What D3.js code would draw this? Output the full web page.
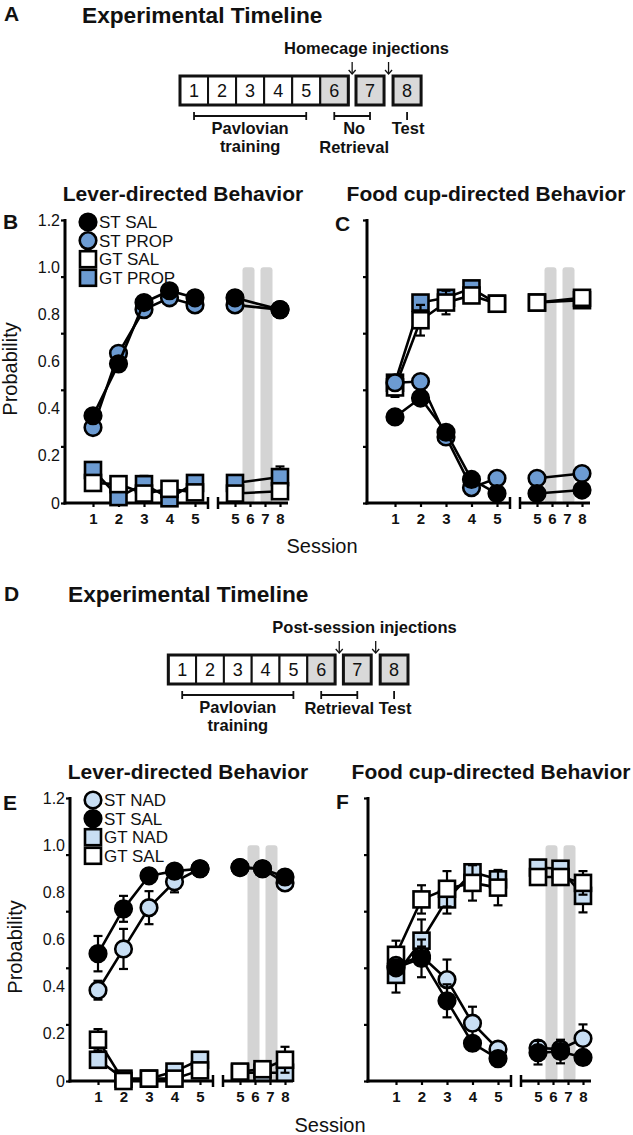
<!DOCTYPE html>
<html><head><meta charset="utf-8">
<script src="https://cdn.jsdelivr.net/npm/d3@7"></script>
<style>
body{margin:0;background:#fff}
svg{display:block}
text{font-family:"Liberation Sans",Arial,Helvetica,sans-serif;fill:#111}
</style>
</head><body>
<svg id="c" width="633" height="1135"></svg>
<script>
// ---------------- DATA ----------------
const sessionsTrain = [1, 2, 3, 4, 5];
const sessionsTestBC = [5, 8];
const sessionsTestEF = [5, 6.5, 8];
const trainTickLabels = [1, 2, 3, 4, 5];
const testTickLabels = [5, 6, 7, 8];
const graySessions = [6, 7];
const yTickLabels = [0, 0.2, 0.4, 0.6, 0.8, 1.0, 1.2];
const yTickMarks = [0, 0.24, 0.48, 0.72, 0.96, 1.2];
const timelineSessions = ["1", "2", "3", "4", "5", "6", "7", "8"];
const timelineGray = ["6", "7", "8"];

// Panel B (lever, propranolol)
const B_stSal = [0.37, 0.59, 0.85, 0.90, 0.87],  B_stSal2 = [0.87, 0.82];
const B_stProp = [0.32, 0.635, 0.82, 0.87, 0.84], B_stProp2 = [0.84, 0.82];
const B_gtSal = [0.085, 0.08, 0.04, 0.06, 0.045], B_gtSal2 = [0.04, 0.05];
const B_gtProp = [0.14, 0.025, 0.08, 0.02, 0.085], B_gtProp2 = [0.085, 0.11];
const B_stSalErr = [0.02, 0.02, 0.02, 0.02, 0.02], B_stSalErr2 = [0.02, 0.02];
const B_stPropErr = [0.02, 0.02, 0.02, 0.02, 0.02], B_stPropErr2 = [0.02, 0.02];
const B_gtSalErr = [0.02, 0.03, 0.02, 0.02, 0.02], B_gtSalErr2 = [0.02, 0.02];
const B_gtPropErr = [0.025, 0.02, 0.035, 0.01, 0.03], B_gtPropErr2 = [0.03, 0.045];

// Panel C (food cup, propranolol)
const C_stSal = [0.365, 0.445, 0.30, 0.10, 0.04], C_stSal2 = [0.04, 0.055];
const C_stProp = [0.51, 0.515, 0.28, 0.065, 0.105], C_stProp2 = [0.105, 0.125];
const C_gtSal = [0.49, 0.775, 0.85, 0.88, 0.845], C_gtSal2 = [0.85, 0.87];
const C_gtProp = [0.51, 0.85, 0.87, 0.91, 0.845], C_gtProp2 = [0.85, 0.86];
const C_stSalErr = [0.02, 0.02, 0.02, 0.02, 0.02], C_stSalErr2 = [0.02, 0.02];
const C_stPropErr = [0.02, 0.02, 0.02, 0.02, 0.02], C_stPropErr2 = [0.02, 0.02];
const C_gtSalErr = [0.04, 0.065, 0.05, 0.02, 0.02], C_gtSalErr2 = [0.02, 0.02];
const C_gtPropErr = [0.02, 0.03, 0.03, 0.02, 0.02], C_gtPropErr2 = [0.02, 0.03];

// Panel E (lever, nadolol)
const E_stNad = [0.385, 0.56, 0.735, 0.845, 0.90], E_stNad2 = [0.905, 0.90, 0.84];
const E_stSal = [0.54, 0.73, 0.87, 0.89, 0.90],    E_stSal2 = [0.905, 0.90, 0.865];
const E_gtNad = [0.09, 0.01, 0.01, 0.04, 0.09],    E_gtNad2 = [0.035, 0.035, 0.035];
const E_gtSal = [0.175, 0.0, 0.01, 0.01, 0.045],   E_gtSal2 = [0.04, 0.05, 0.09];
const E_stNadErr = [0.04, 0.085, 0.07, 0.045, 0.02], E_stNadErr2 = [0.02, 0.02, 0.03];
const E_stSalErr = [0.075, 0.055, 0.02, 0.02, 0.02], E_stSalErr2 = [0.02, 0.02, 0.03];
const E_gtNadErr = [0.03, 0.01, 0.01, 0.02, 0.02],   E_gtNadErr2 = [0.01, 0.01, 0.02];
const E_gtSalErr = [0.045, 0.01, 0.01, 0.01, 0.02],  E_gtSalErr2 = [0.01, 0.01, 0.055];

// Panel F (food cup, nadolol)
const F_stNad = [0.49, 0.53, 0.43, 0.245, 0.135], F_stNad2 = [0.14, 0.135, 0.18];
const F_stSal = [0.48, 0.52, 0.34, 0.16, 0.095],  F_stSal2 = [0.12, 0.125, 0.10];
const F_gtNad = [0.45, 0.595, 0.77, 0.885, 0.855], F_gtNad2 = [0.905, 0.90, 0.785];
const F_gtSal = [0.535, 0.77, 0.815, 0.84, 0.82],  F_gtSal2 = [0.865, 0.865, 0.84];
const F_stNadErr = [0.03, 0.04, 0.085, 0.07, 0.02], F_stNadErr2 = [0.02, 0.02, 0.06];
const F_stSalErr = [0.03, 0.08, 0.07, 0.03, 0.02],  F_stSalErr2 = [0.05, 0.05, 0.03];
const F_gtNadErr = [0.075, 0.09, 0.06, 0.02, 0.03], F_gtNadErr2 = [0.02, 0.03, 0.07];
const F_gtSalErr = [0.06, 0.06, 0.075, 0.075, 0.075], F_gtSalErr2 = [0.02, 0.02, 0.05];

const legendBC = ["ST SAL", "ST PROP", "GT SAL", "GT PROP"];
const legendEF = ["ST NAD", "ST SAL", "GT NAD", "GT SAL"];

// ---------------- STYLE ----------------
const BLUE = "#6c9bd2", LIGHT = "#c8def3", GRAY = "#d4d4d4";
const FONT = '"Liberation Sans",Arial,Helvetica,sans-serif';
const svg = d3.select("#c");

function series(name, shape, fill, v1, v2, e1, e2) {
  return {name, shape, fill, v1, v2, e1, e2};
}

const panelB = [ // drawn back to front
  series("GT PROP", "square", BLUE, B_gtProp, B_gtProp2, B_gtPropErr, B_gtPropErr2),
  series("GT SAL", "square", "#fff", B_gtSal, B_gtSal2, B_gtSalErr, B_gtSalErr2),
  series("ST PROP", "circle", BLUE, B_stProp, B_stProp2, B_stPropErr, B_stPropErr2),
  series("ST SAL", "circle", "#000", B_stSal, B_stSal2, B_stSalErr, B_stSalErr2)
];
const panelC = [
  series("GT PROP", "square", BLUE, C_gtProp, C_gtProp2, C_gtPropErr, C_gtPropErr2),
  series("GT SAL", "square", "#fff", C_gtSal, C_gtSal2, C_gtSalErr, C_gtSalErr2),
  series("ST PROP", "circle", BLUE, C_stProp, C_stProp2, C_stPropErr, C_stPropErr2),
  series("ST SAL", "circle", "#000", C_stSal, C_stSal2, C_stSalErr, C_stSalErr2)
];
const panelE = [
  series("GT NAD", "square", LIGHT, E_gtNad, E_gtNad2, E_gtNadErr, E_gtNadErr2),
  series("GT SAL", "square", "#fff", E_gtSal, E_gtSal2, E_gtSalErr, E_gtSalErr2),
  series("ST NAD", "circle", LIGHT, E_stNad, E_stNad2, E_stNadErr, E_stNadErr2),
  series("ST SAL", "circle", "#000", E_stSal, E_stSal2, E_stSalErr, E_stSalErr2)
];
const panelF = [
  series("GT NAD", "square", LIGHT, F_gtNad, F_gtNad2, F_gtNadErr, F_gtNadErr2),
  series("GT SAL", "square", "#fff", F_gtSal, F_gtSal2, F_gtSalErr, F_gtSalErr2),
  series("ST NAD", "circle", LIGHT, F_stNad, F_stNad2, F_stNadErr, F_stNadErr2),
  series("ST SAL", "circle", "#000", F_stSal, F_stSal2, F_stSalErr, F_stSalErr2)
];

function txt(g, x, y, s, size, weight, anchor) {
  return g.append("text").attr("x", x).attr("y", y).text(s)
    .attr("font-size", size).attr("font-weight", weight || "normal")
    .attr("text-anchor", anchor || "start");
}

function marker(g, shape, fill, x, y) {
  if (shape === "circle") {
    g.append("circle").attr("cx", x).attr("cy", y).attr("r", 8.3)
      .attr("fill", fill).attr("stroke", "#000").attr("stroke-width", 2.6);
  } else {
    g.append("rect").attr("x", x - 8).attr("y", y - 8).attr("width", 16).attr("height", 16)
      .attr("fill", fill).attr("stroke", "#000").attr("stroke-width", 2.6);
  }
}

// ---------------- PANEL ----------------
function drawPanel(cfg) {
  const {ax, y0, data, testX, showYLabels, legend} = cfg;
  const g = svg.append("g");
  const y = d3.scaleLinear().domain([0, 1.2]).range([y0, y0 - 283]);
  const x1 = d3.scaleLinear().domain([1, 5]).range([ax + 28, ax + 130]);
  const x2 = d3.scaleLinear().domain([5, 8]).range([ax + 170, ax + 215]);

  // gray bars for sessions 6 and 7
  g.selectAll(".gb").data(graySessions).join("rect")
    .attr("x", (d, i) => x2(d) - 6 + (i === 0 ? -1.5 : 1.5)).attr("width", 12)
    .attr("y", y(1.0)).attr("height", y(0) - y(1.0))
    .attr("rx", 3).attr("fill", GRAY);

  // y axis: tick marks
  const yAxisMarks = d3.axisLeft(y).tickValues(yTickMarks).tickSize(4).tickFormat("").tickSizeOuter(0);
  const ya = g.append("g").attr("transform", `translate(${ax},0)`).call(yAxisMarks);
  ya.select(".domain").attr("stroke", "#000").attr("stroke-width", 3)
    .attr("d", `M0,${y(1.2) - 1}V${y0 + 1.5}`);
  ya.selectAll(".tick line").attr("stroke", "#000").attr("stroke-width", 2.2);
  // y axis labels
  if (showYLabels) {
    const yAxisLab = d3.axisLeft(y).tickValues(yTickLabels).tickSize(0).tickPadding(5)
      .tickFormat(d => d === 0 ? "0" : d3.format(".1f")(d));
    const yl = g.append("g").attr("transform", `translate(${ax},0)`).call(yAxisLab);
    yl.select(".domain").remove();
    yl.selectAll("text").attr("font-size", 16).attr("font-family", FONT).attr("fill", "#111");
  }

  // x axis segment 1
  const fmt = d3.format("d");
  const xa1 = d3.axisBottom(x1).tickValues(trainTickLabels).tickFormat(fmt).tickSize(4).tickPadding(6).tickSizeOuter(0);
  const g1 = g.append("g").attr("transform", `translate(0,${y0})`).call(xa1);
  g1.select(".domain").attr("stroke", "#000").attr("stroke-width", 3)
    .attr("d", `M${ax - 1.5},0H${ax + 143}`);
  g1.append("line").attr("x1", ax + 143).attr("x2", ax + 143).attr("y1", -6).attr("y2", 6)
    .attr("stroke", "#000").attr("stroke-width", 2.5);
  // x axis segment 2
  const xa2 = d3.axisBottom(x2).tickValues(testTickLabels).tickFormat(fmt).tickSize(4).tickPadding(6).tickSizeOuter(0);
  const g2 = g.append("g").attr("transform", `translate(0,${y0})`).call(xa2);
  g2.select(".domain").attr("stroke", "#000").attr("stroke-width", 3)
    .attr("d", `M${ax + 153},0H${ax + 223}`);
  g2.append("line").attr("x1", ax + 153).attr("x2", ax + 153).attr("y1", -6).attr("y2", 6)
    .attr("stroke", "#000").attr("stroke-width", 2.5);
  [g1, g2].forEach(a => {
    a.selectAll(".tick line").attr("stroke", "#000").attr("stroke-width", 2.2);
    a.selectAll("text").attr("font-size", 15).attr("font-weight", "bold")
      .attr("font-family", FONT).attr("fill", "#111");
  });

  // series
  data.forEach(s => {
    const sg = g.append("g");
    const pts1 = sessionsTrain.map((d, i) => ({x: x1(d), v: s.v1[i], e: s.e1[i]}));
    const pts2 = testX.map((d, i) => ({x: x2(d), v: s.v2[i], e: s.e2[i]}));
    [pts1, pts2].forEach(pts => {
      pts.forEach(p => {
        sg.append("line").attr("x1", p.x).attr("x2", p.x)
          .attr("y1", y(p.v + p.e)).attr("y2", y(Math.max(0, p.v - p.e)))
          .attr("stroke", "#000").attr("stroke-width", 2.2);
        [p.v + p.e, Math.max(0, p.v - p.e)].forEach(c => {
          sg.append("line").attr("x1", p.x - 4.5).attr("x2", p.x + 4.5)
            .attr("y1", y(c)).attr("y2", y(c)).attr("stroke", "#000").attr("stroke-width", 2.2);
        });
      });
      sg.append("path").datum(pts)
        .attr("d", d3.line().x(p => p.x).y(p => y(p.v)))
        .attr("fill", "none").attr("stroke", "#000").attr("stroke-width", 2.6);
      pts.forEach(p => marker(sg, s.shape, s.fill, p.x, y(p.v)));
    });
  });

  // legend
  if (legend) {
    legend.forEach((name, i) => {
      const s = data.find(d => d.name === name);
      const ly = y0 - 281 + i * 18.6;
      marker(g, s.shape, s.fill, ax + 23, ly);
      txt(g, ax + 34, ly + 6, name, 17);
    });
  }
  return g;
}

// ---------------- TIMELINE ----------------
function drawTimeline(cfg) {
  const {x0, w, top, gap1, gap2, injLabel, injX, midLabel1, midLabel2} = cfg;
  const g = svg.append("g");
  const h = 29;
  const xs = timelineSessions.map((d, i) => i < 6 ? x0 + i * w : (i === 6 ? x0 + 6 * w + gap1 : x0 + 7 * w + gap1 + gap2));
  timelineSessions.forEach((d, i) => {
    g.append("rect").attr("x", xs[i]).attr("y", top).attr("width", w).attr("height", h)
      .attr("fill", timelineGray.includes(d) ? "#d9d9d9" : "#fff")
      .attr("stroke", "#111").attr("stroke-width", i < 6 ? 2 : 3);
    txt(g, xs[i] + w / 2, top + h / 2 + 6.5, d, 18, "normal", "middle");
  });
  g.append("rect").attr("x", x0).attr("y", top).attr("width", 6 * w).attr("height", h)
    .attr("fill", "none").attr("stroke", "#111").attr("stroke-width", 3);

  const cx = i => xs[i] + w / 2;
  const by = top + h + 11;
  function bracket(a, b) {
    g.append("line").attr("x1", a).attr("x2", b).attr("y1", by).attr("y2", by).attr("stroke", "#111").attr("stroke-width", 1.8);
    [a, b].forEach(xx => g.append("line").attr("x1", xx).attr("x2", xx).attr("y1", by - 4).attr("y2", by + 4).attr("stroke", "#111").attr("stroke-width", 1.8));
  }
  bracket(cx(0), cx(4));
  bracket(cx(5), cx(6));
  g.append("line").attr("x1", cx(7)).attr("x2", cx(7)).attr("y1", by - 4).attr("y2", by + 4).attr("stroke", "#111").attr("stroke-width", 1.8);

  txt(g, (cx(0) + cx(4)) / 2, top + h + 29, "Pavlovian", 16.5, "bold", "middle");
  txt(g, (cx(0) + cx(4)) / 2, top + h + 47, "training", 16.5, "bold", "middle");
  if (midLabel2) {
    txt(g, (cx(5) + cx(6)) / 2 + 2, top + h + 29, midLabel1, 16.5, "bold", "middle");
    txt(g, (cx(5) + cx(6)) / 2 + 2, top + h + 48, midLabel2, 16.5, "bold", "middle");
  } else {
    txt(g, (cx(5) + cx(6)) / 2, top + h + 30, midLabel1, 16.5, "bold", "middle");
  }
  txt(g, cx(7) + 1, top + h + (midLabel2 ? 29 : 30), "Test", 16.5, "bold", "middle");

  // injection label & arrows
  txt(g, injX, top - 22, injLabel, 16.5, "bold", "middle");
  const ax1 = x0 + 6 * w + gap1 / 2, ax2 = xs[6] + w + gap2 / 2;
  [ax1, ax2].forEach(xx => {
    g.append("line").attr("x1", xx).attr("x2", xx).attr("y1", top - 14).attr("y2", top - 2).attr("stroke", "#111").attr("stroke-width", 1.3);
    g.append("path").attr("d", `M${xx - 3.5},${top - 6}L${xx},${top - 2}L${xx + 3.5},${top - 6}`)
      .attr("fill", "none").attr("stroke", "#111").attr("stroke-width", 1.3);
  });
}

// ---------------- LAYOUT ----------------
// A
txt(svg, 4, 21, "A", 21, "bold");
txt(svg, 82, 23, "Experimental Timeline", 22.7, "bold");
drawTimeline({x0: 180, w: 28.05, top: 76, gap1: 7.7, gap2: 9, injLabel: "Homecage injections", injX: 366.5, midLabel1: "No", midLabel2: "Retrieval"});

// B / C
txt(svg, 183, 201, "Lever-directed Behavior", 21, "bold", "middle");
txt(svg, 486, 201, "Food cup-directed Behavior", 21, "bold", "middle");
txt(svg, 3, 229, "B", 21, "bold");
txt(svg, 335, 231, "C", 21, "bold");
drawPanel({ax: 65, y0: 503, data: panelB, testX: sessionsTestBC, showYLabels: true, legend: legendBC});
drawPanel({ax: 367, y0: 503, data: panelC, testX: sessionsTestBC, showYLabels: false});
svg.append("text").attr("transform", "translate(17,369) rotate(-90)").attr("text-anchor", "middle")
  .attr("font-size", 20).text("Probability");
txt(svg, 322, 553, "Session", 20, "normal", "middle");

// D
txt(svg, 4, 601, "D", 21, "bold");
txt(svg, 68, 602, "Experimental Timeline", 22.7, "bold");
drawTimeline({x0: 168.3, w: 27.8, top: 655, gap1: 8.3, gap2: 9, injLabel: "Post-session injections", injX: 364.5, midLabel1: "Retrieval"});

// E / F
txt(svg, 188, 779, "Lever-directed Behavior", 21, "bold", "middle");
txt(svg, 491, 779, "Food cup-directed Behavior", 21, "bold", "middle");
txt(svg, 3, 810, "E", 21, "bold");
txt(svg, 336, 809, "F", 21, "bold");
drawPanel({ax: 70, y0: 1081, data: panelE, testX: sessionsTestEF, showYLabels: true, legend: legendEF});
drawPanel({ax: 368, y0: 1081, data: panelF, testX: sessionsTestEF, showYLabels: false});
svg.append("text").attr("transform", "translate(22,947) rotate(-90)").attr("text-anchor", "middle")
  .attr("font-size", 20).text("Probability");
txt(svg, 330, 1132, "Session", 20, "normal", "middle");
</script>
</body></html>
